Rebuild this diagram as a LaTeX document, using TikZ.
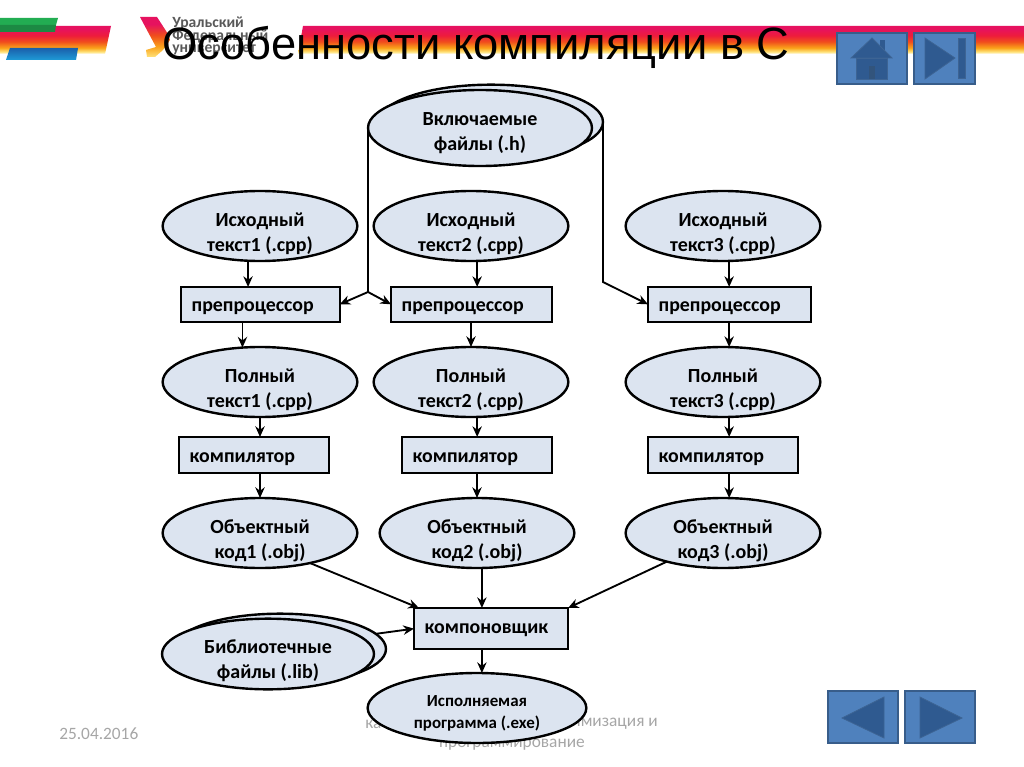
\documentclass[tikz,border=0pt]{standalone}
\usepackage{fontspec}
\setmainfont{Carlito}
\newfontfamily\titlefont{Liberation Sans}
\usetikzlibrary{arrows.meta,shapes.geometric}
\definecolor{nodefill}{HTML}{DCE4F0}
\definecolor{btnfill}{HTML}{4F81BD}
\definecolor{btnedge}{HTML}{385D8A}
\definecolor{btnicon}{HTML}{2F5A90}
\definecolor{footgrey}{HTML}{A6A6A6}
\definecolor{bandA}{HTML}{E6125F}
\definecolor{bandB}{HTML}{EE1C3C}
\definecolor{bandC}{HTML}{F04E1C}
\definecolor{bandD}{HTML}{FAA31A}
\definecolor{bandE}{HTML}{FFE27A}
\definecolor{blueA}{HTML}{1B5FAA}
\definecolor{blueB}{HTML}{1E9BD7}
\definecolor{greenA}{HTML}{22AD52}
\definecolor{greenB}{HTML}{1C8A43}
\pgfdeclareverticalshading{bandshade}{100bp}{color(0bp)=(white);color(25bp)=(white);color(29bp)=(bandE);color(36bp)=(bandD);color(47bp)=(bandC);color(58bp)=(bandB);color(70bp)=(bandA);color(100bp)=(bandA)}
\pgfdeclareverticalshading{logoshade}{100bp}{color(0bp)=(bandE);color(25bp)=(bandE);color(38bp)=(bandD);color(52bp)=(bandC);color(66bp)=(bandA);color(100bp)=(bandA)}
\pgfdeclareverticalshading{blueshade}{100bp}{color(0bp)=(blueB);color(25bp)=(blueB);color(75bp)=(blueA);color(100bp)=(blueA)}
\newcommand\ovtext[2]{\raisebox{#1}[0pt][0pt]{\begin{tabular}{@{}c@{}}#2\end{tabular}}}
\newcommand\bxtext[2]{\raisebox{#1}[0pt][0pt]{#2}}
\tikzset{
  x=.75pt,y=-.75pt,
  oval/.style={ellipse,draw,line width=1.8pt,fill=nodefill,align=center,font=\bfseries\fontsize{15}{18.75}\selectfont,inner sep=0pt,outer sep=0pt,minimum width=146pt,minimum height=52.5pt},
  wide/.style={oval,minimum width=168pt,minimum height=56pt},
  lib/.style={oval,minimum width=159pt,minimum height=53pt},
  exe/.style={oval,minimum width=164pt,minimum height=52.5pt,font=\bfseries\fontsize{12.7}{16.5}\selectfont},
  boxn/.style={rectangle,draw,line width=1.7pt,fill=nodefill,anchor=north west,align=left,font=\bfseries\fontsize{14.9}{16}\selectfont,inner xsep=8pt,inner ysep=0pt,outer sep=0pt},
  arr/.style={line width=1.4pt,-{Stealth[length=8pt,width=7pt]}},
  ln/.style={line width=1.4pt},
  btn/.style={rectangle,draw=btnedge,line width=1.6pt,fill=btnfill,anchor=north west,inner sep=0pt,outer sep=0pt},
  ico/.style={fill=btnicon,draw=btnedge!80!btnfill,line width=.6pt},
  foot/.style={text=footgrey,font=\fontsize{13}{15}\selectfont,inner sep=0pt},
  logot/.style={anchor=west,inner sep=0pt,text=black!65,font=\bfseries\fontsize{11.7}{13}\selectfont},
}
\begin{document}
\begin{tikzpicture}
\useasboundingbox (0,0) rectangle (1024,767);
% header bands
\shade[shading=bandshade] (0,26) -- (111,26) -- (105,54) -- (0,54) -- cycle;
\fill[greenA] (0,18) -- (58,18) -- (56,25) -- (0,25) -- cycle;
\fill[greenB] (0,25) -- (56,25) -- (55,32) -- (0,32) -- cycle;
\shade[shading=blueshade] (10,48) -- (78,48) -- (76,60) -- (6,60) -- cycle;
\shade[shading=bandshade] (303,26) -- (1024,26) -- (1024,54) -- (298,54) -- cycle;
% logo
\shade[shading=logoshade] (140,17) -- (157,17) -- (168,34) -- (170,40) -- (163,50) -- (155,57) -- (147,57) -- (146,50) -- (156,47) -- cycle;
\node[logot] (l1) at (172,23) {Уральский};
\node[logot] (l2) at (172,36) {Федеральный};
\node[logot] (l3) at (172,50) {университет};
% title
\node[anchor=west,inner sep=0pt,font=\titlefont\fontsize{34}{36}\selectfont] (title) at (162,47) {Особенности компиляции в С};
% buttons
\node[btn,minimum width=52.5pt,minimum height=38pt] (bhome) at (837,33) {};
\node[btn,minimum width=45.5pt,minimum height=38pt] (bend) at (914,33) {};
\node[btn,minimum width=52.5pt,minimum height=39pt] (bprev) at (828,691) {};
\node[btn,minimum width=52.5pt,minimum height=39pt] (bnext) at (905,691) {};
\fill[btnicon] (880,40) rectangle (885,52);
\path[ico] (872,38) -- (892,58) -- (851,58) -- cycle;
\path[ico] (856,58) rectangle (887,79);
\path[fill=btnedge!90!black] (869,66) rectangle (875,79);
\path[ico] (925,38) -- (955,58) -- (925,79) -- cycle;
\path[ico] (958,38) rectangle (965,78);
\path[ico] (842,718) -- (884,697) -- (884,738) -- cycle;
\path[ico] (920,697) -- (962,718) -- (920,738) -- cycle;
% footer
\node[foot,anchor=west] (date) at (59,734) {25.04.2016};
\node[foot,anchor=west] (fa) at (365,724) {ка};
\node[foot,anchor=east] (fb) at (658,724) {тимизация и};
\node[foot,anchor=center] (fc) at (512,745) {программирование};
% included files
\node[wide] (incb) at (491,122) {};
\node[wide,minimum height=57pt] (inc) at (480,128) {\ovtext{-7.5pt}{Включаемые\\файлы (.h)}};
% source
\node[oval] (s1) at (260,226) {\ovtext{-9.5pt}{Исходный\\текст1 (.cpp)}};
\node[oval] (s2) at (471,226) {\ovtext{-9.5pt}{Исходный\\текст2 (.cpp)}};
\node[oval] (s3) at (723,226) {\ovtext{-9.5pt}{Исходный\\текст3 (.cpp)}};
\node[boxn,text width=103pt,minimum height=26pt] (p1) at (181,287) {\bxtext{-5.7pt}{препроцессор}};
\node[boxn,text width=104.75pt,minimum height=26pt] (p2) at (391,287) {\bxtext{-5.7pt}{препроцессор}};
\node[boxn,text width=106.25pt,minimum height=26pt] (p3) at (648,287) {\bxtext{-5.7pt}{препроцессор}};
\node[oval] (f1) at (260,382) {\ovtext{-9.5pt}{Полный\\текст1 (.cpp)}};
\node[oval] (f2) at (471,382) {\ovtext{-9.5pt}{Полный\\текст2 (.cpp)}};
\node[oval] (f3) at (723,382) {\ovtext{-9.5pt}{Полный\\текст3 (.cpp)}};
\node[boxn,text width=96.5pt,minimum height=27pt] (c1) at (179,437) {\bxtext{-5.7pt}{компилятор}};
\node[boxn,text width=96.5pt,minimum height=27pt] (c2) at (402,437) {\bxtext{-5.7pt}{компилятор}};
\node[boxn,text width=96.5pt,minimum height=27pt] (c3) at (648,437) {\bxtext{-5.7pt}{компилятор}};
\node[oval] (o1) at (260,533) {\ovtext{-9.5pt}{Объектный\\код1 (.obj)}};
\node[oval] (o2) at (477,533) {\ovtext{-9.5pt}{Объектный\\код2 (.obj)}};
\node[oval] (o3) at (723,533) {\ovtext{-9.5pt}{Объектный\\код3 (.obj)}};
\node[boxn,text width=99.5pt,minimum height=31pt] (link) at (414,608) {\bxtext{-3.5pt}{компоновщик}};
\node[lib] (libb) at (280,649) {};
\node[lib] (libf) at (268,654) {\ovtext{-9pt}{Библиотечные\\файлы (.lib)}};
\node[exe] (exe) at (477,708) {\ovtext{-6.8pt}{Исполняемая\\программа (.exe)}};
% connectors
\coordinate (jl) at (368,292);
\coordinate (jr) at (603,282);
\draw[ln] (inc.west) -- (jl);
\draw[arr] (jl) -- (p1.east);
\draw[arr] (jl) -- (p2.west);
\draw[arr] (incb.east) -- (jr) -- (p3.west);
\draw[arr] (s1.251) -- (s1.251 |- p1.north);
\draw[arr] (s2.280) -- (s2.280 |- p2.north);
\draw[arr] (s3.280) -- (s3.280 |- p3.north);
\draw[arr] (f1.117 |- p1.south) -- (f1.117);
\draw[arr] (f2.north |- p2.south) -- (f2.north);
\draw[arr] (f3.80 |- p3.south) -- (f3.80);
\draw[arr] (f1.south) -- (f1.south |- c1.north);
\draw[arr] (f2.280) -- (f2.280 |- c2.north);
\draw[arr] (f3.280) -- (f3.280 |- c3.north);
\draw[arr] (o1.north |- c1.south) -- (o1.north);
\draw[arr] (o2.north |- c2.south) -- (o2.north);
\draw[arr] (o3.80 |- c3.south) -- (o3.80);
\draw[arr] (o1.329) -- (link.164);
\draw[arr] (o2.278) -- (o2.278 |- link.north);
\draw[arr] (o3.207) -- (link.north east);
\draw[arr] (libb.9) -- (link.west);
\draw[arr] (exe.82 |- link.south) -- (exe.82);
\end{tikzpicture}
\end{document}
